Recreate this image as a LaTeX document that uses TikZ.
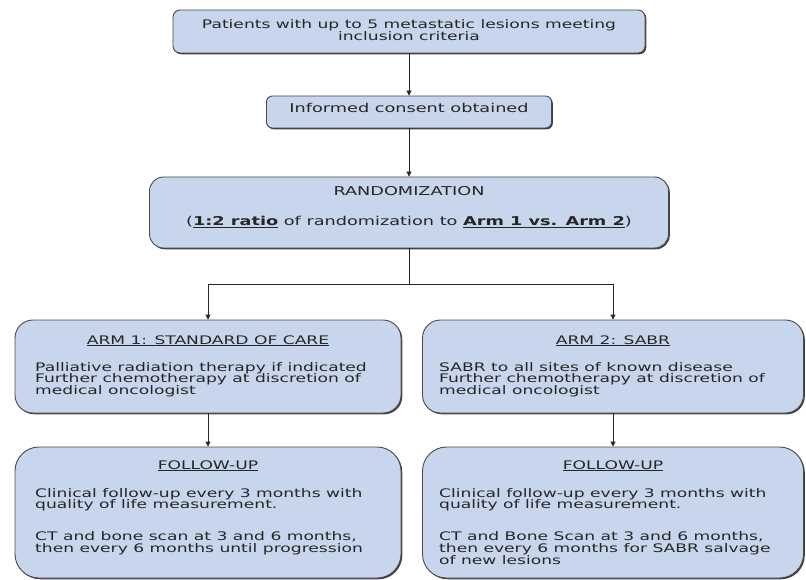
\documentclass[tikz,border=0pt]{standalone}
\usepackage{fontspec}
\setmainfont{DejaVu Sans}[FakeStretch=1.45]
\usetikzlibrary{arrows.meta,shadows}
\definecolor{boxfill}{HTML}{C7D6EC}
\definecolor{boxline}{HTML}{4A4A4A}
\definecolor{txtcol}{HTML}{262626}
\begin{document}
\begin{tikzpicture}[x=1pt,y=-1pt,
  box/.style={draw=boxline, line width=0.9pt, fill=boxfill, inner sep=0pt,
    drop shadow={shadow xshift=1.3pt,shadow yshift=-1.3pt,opacity=0.75,fill=black}},
  txt/.style={text=txtcol, inner sep=0pt, font=\fontsize{11.8}{11.8}\selectfont},
  big/.style={text=txtcol, inner sep=0pt, font=\fontsize{12.2}{14}\selectfont},
  conn/.style={draw=black!85, line width=0.9pt},
  arr/.style={conn, -{Triangle[length=5pt,width=5pt]}}]
\path[use as bounding box] (0,0) rectangle (806,580);
% boxes
\node[box, rounded corners=7pt, minimum width=472pt, minimum height=43pt] (top) at (409,31.5) {};
\node[box, rounded corners=6pt, minimum width=285pt, minimum height=32pt] (consent) at (409,112) {};
\node[box, rounded corners=14pt, minimum width=519pt, minimum height=71pt] (rand) at (409,212.5) {};
\node[box, rounded corners=18pt, minimum width=386pt, minimum height=93pt] (a1) at (208,366.5) {};
\node[box, rounded corners=18pt, minimum width=381pt, minimum height=93pt] (a2) at (613,366.5) {};
\node[box, rounded corners=24pt, minimum width=386pt, minimum height=131pt] (f1) at (208,512.5) {};
\node[box, rounded corners=24pt, minimum width=381pt, minimum height=131pt] (f2) at (613,512.5) {};
% texts (anchor base = baseline of the last line)
\node[txt, align=center, anchor=base] (topt) at (409,40.8) {Patients with up to 5 metastatic lesions meeting\\inclusion criteria};
\node[big, anchor=base] (consentt) at (409,112.5) {Informed consent obtained};
\node[big, anchor=base] (randt) at (409,196) {RANDOMIZATION};
\node[big, anchor=base] (randb) at (409,226) {(\underline{\textbf{1:2 ratio}} of randomization to \underline{\textbf{Arm 1 vs. Arm 2}})};
\node[txt, anchor=base] (a1t) at (208,344) {\underline{ARM 1: STANDARD OF CARE}};
\node[txt, align=left, anchor=base west] (a1b) at (35,394.6) {Palliative radiation therapy if indicated\\Further chemotherapy at discretion of\\medical oncologist};
\node[txt, anchor=base] (a2t) at (613,344) {\underline{ARM 2: SABR}};
\node[txt, align=left, anchor=base west] (a2b) at (439,394.6) {SABR to all sites of known disease\\Further chemotherapy at discretion of\\medical oncologist};
\node[txt, anchor=base] (f1t) at (208,469) {\underline{FOLLOW-UP}};
\node[txt, align=left, anchor=base west] (f1b) at (35,552.4) {Clinical follow-up every 3 months with\\quality of life measurement.\\[20pt]CT and bone scan at 3 and 6 months,\\then every 6 months until progression};
\node[txt, anchor=base] (f2t) at (613,469) {\underline{FOLLOW-UP}};
\node[txt, align=left, anchor=base west] (f2b) at (439,564.2) {Clinical follow-up every 3 months with\\quality of life measurement.\\[20pt]CT and Bone Scan at 3 and 6 months,\\then every 6 months for SABR salvage\\of new lesions};
% connectors
\coordinate (split) at (409,284);
\draw[arr] (top) -- (consent);
\draw[arr] (consent) -- (rand);
\draw[conn] (rand) -- (split);
\draw[arr] (split) -| (a1);
\draw[arr] (split) -| (a2);
\draw[arr] (a1) -- (f1);
\draw[arr] (a2) -- (f2);
\end{tikzpicture}
\end{document}
